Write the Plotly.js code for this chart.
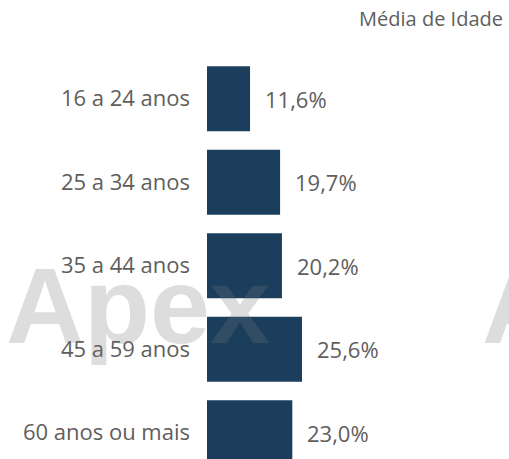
<!DOCTYPE html>
<html>
<head>
<meta charset="utf-8">
<script src="https://cdn.plot.ly/plotly-3.0.1.min.js"></script>
<style>
  html, body { margin: 0; padding: 0; background: #ffffff; }
  #chart { width: 509px; height: 459px; }
</style>
</head>
<body>
<div id="chart"></div>
<script>
// faixas etarias e participacao (%)
var faixas = ['16 a 24 anos', '25 a 34 anos', '35 a 44 anos', '45 a 59 anos', '60 anos ou mais'];
var percentuais = [11.6, 19.7, 20.2, 25.6, 23.0];
var rotulos = ['11,6%', '19,7%', '20,2%', '25,6%', '23,0%'];

var textColor = '#605E5C';
var barColor = '#1A3E5C';

var data = [
    {
        type: 'bar',
        orientation: 'h',
        x: percentuais,
        y: faixas,
        marker: { color: barColor },
        hoverinfo: 'none'
    }
];

// rotulos de valor ao lado das barras
var annotations = [];
for (var i = 0; i < faixas.length; i++) {
    annotations.push({
        x: percentuais[i],
        y: faixas[i],
        xref: 'x',
        yref: 'y',
        text: rotulos[i],
        showarrow: false,
        xanchor: 'left',
        xshift: 13,
        font: { family: 'Open Sans', size: 22, color: textColor }
    });
}

// marca d'agua
var marca = { family: 'Liberation Sans', size: 108, color: 'rgba(120,120,120,0.25)' };
annotations.push({
    xref: 'paper', yref: 'paper',
    x: -203 / 302, y: (459 - 345) / 402,
    xanchor: 'left', yanchor: 'bottom',
    yshift: -23,
    text: '<b>Apex</b>',
    showarrow: false,
    font: marca
});
annotations.push({
    xref: 'paper', yref: 'paper',
    x: (480 - 207) / 302, y: (459 - 345) / 402,
    xanchor: 'left', yanchor: 'bottom',
    yshift: -23,
    text: '<b>Apex</b>',
    showarrow: false,
    font: marca
});

var layout = {
    width: 509,
    height: 459,
    paper_bgcolor: '#ffffff',
    plot_bgcolor: '#ffffff',
    margin: { l: 207, r: 0, t: 57, b: 0 },
    showlegend: false,
    bargap: 0.22,
    title: {
        text: 'Média de Idade',
        xref: 'container', yref: 'container',
        x: 503 / 509, xanchor: 'right',
        y: 1 - 19 / 459, yanchor: 'middle',
        font: { family: 'Open Sans', size: 20, color: textColor }
    },
    xaxis: {
        range: [0, 81.4],
        visible: false,
        fixedrange: true
    },
    yaxis: {
        range: [4.314, -0.5],
        showgrid: false,
        zeroline: false,
        showline: false,
        ticks: '',
        ticklabelstandoff: 16,
        tickfont: { family: 'Open Sans', size: 22, color: textColor },
        fixedrange: true
    },
    annotations: annotations
};

Plotly.newPlot('chart', data, layout, { displayModeBar: false, staticPlot: true });
</script>
</body>
</html>
